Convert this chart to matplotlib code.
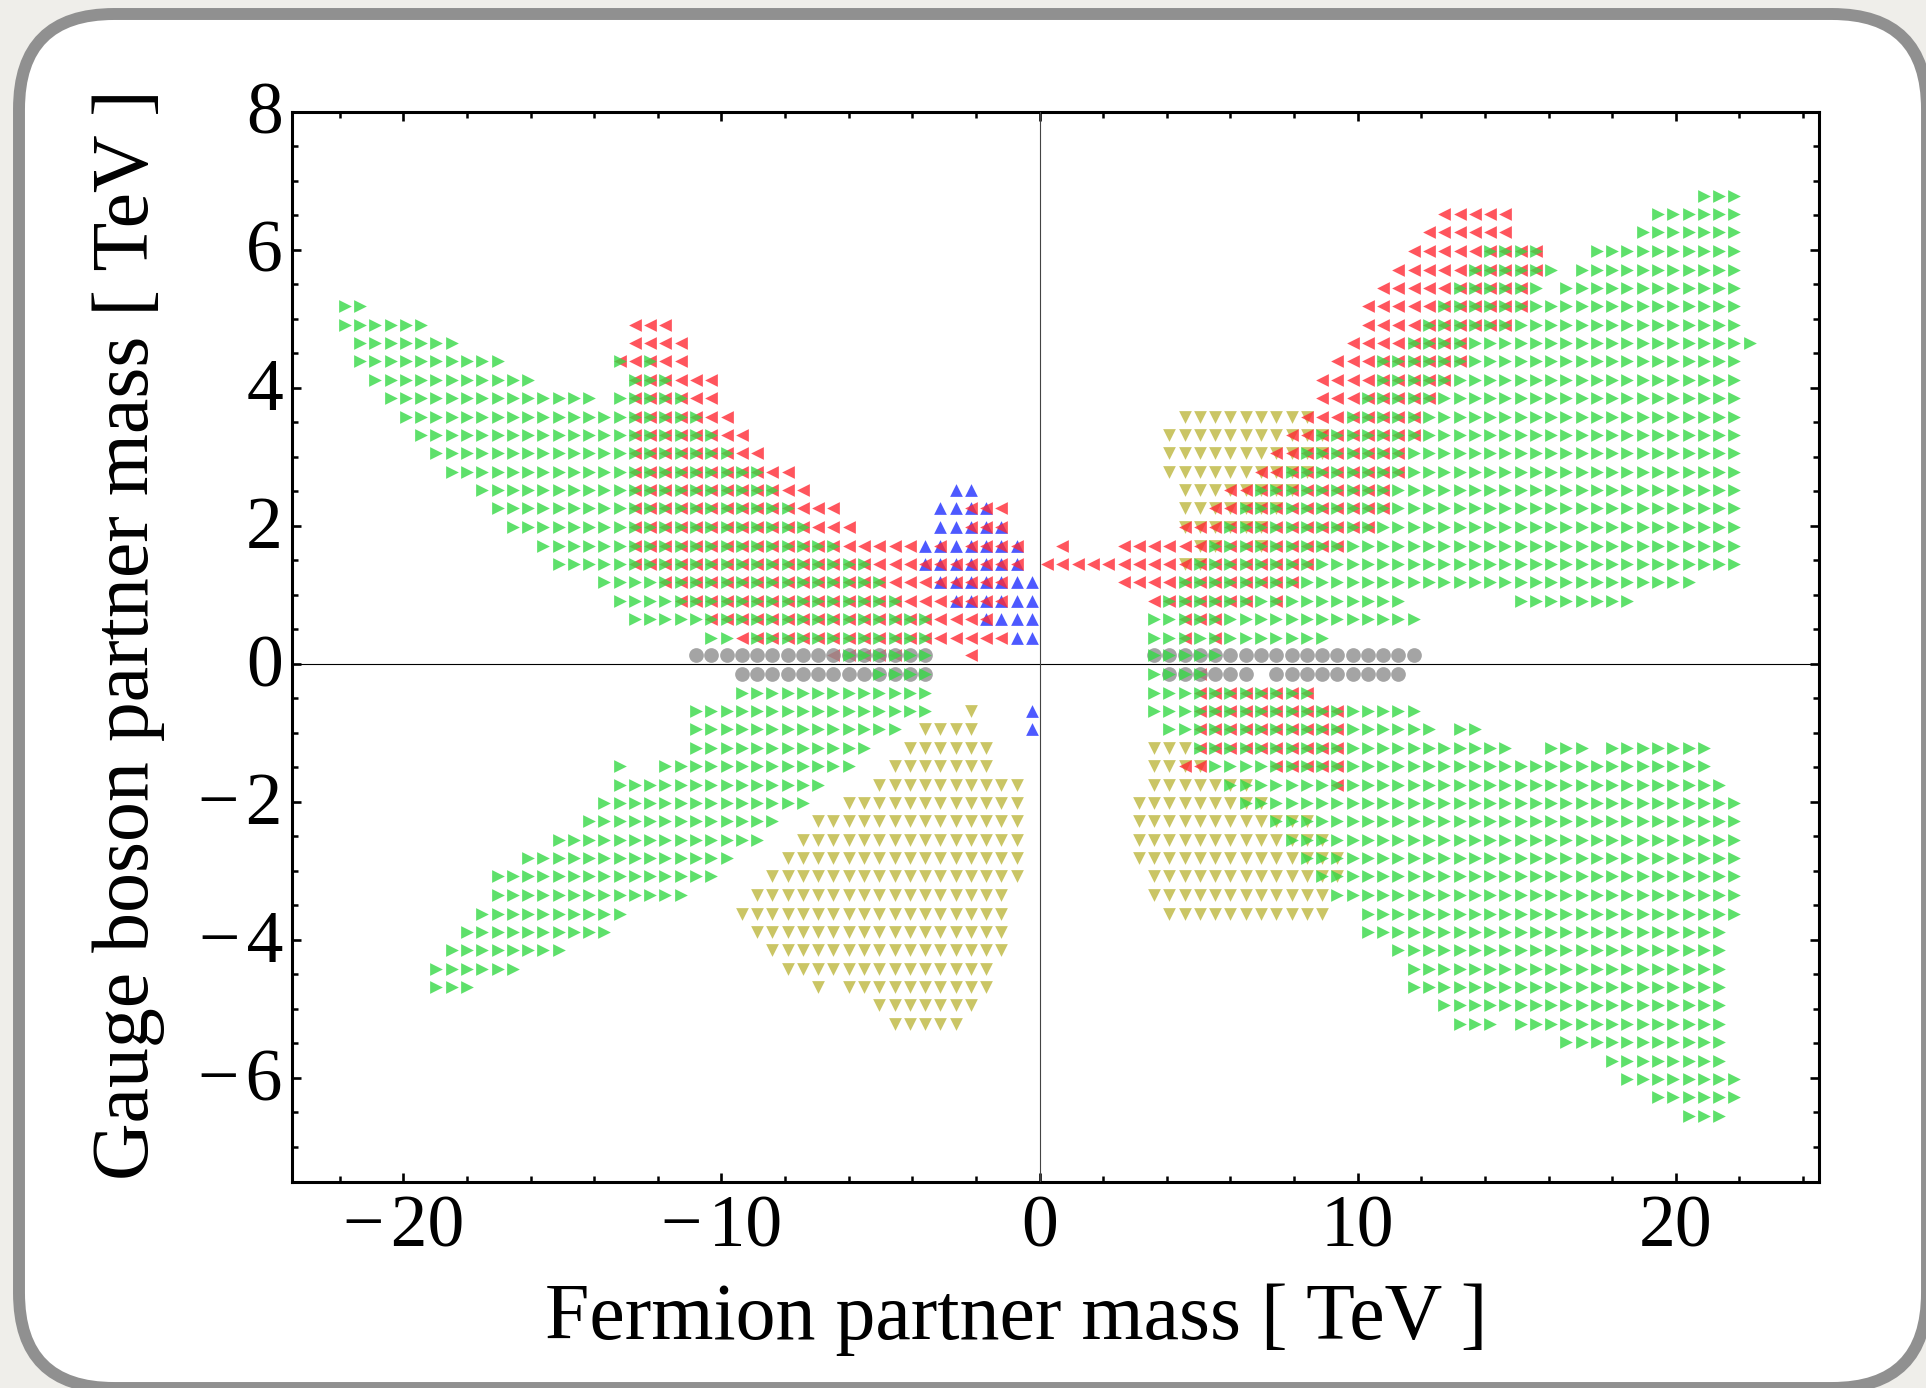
import matplotlib
matplotlib.use("Agg")
import matplotlib.pyplot as plt
from matplotlib.patches import FancyBboxPatch
from matplotlib.transforms import ScaledTranslation

plt.rcParams['font.family'] = ['Liberation Serif', 'DejaVu Serif']

# Scan grid: fermion partner masses (columns) and gauge boson partner masses (rows), TeV
FERMION = [-21.84, -21.36, -20.88, -20.40, -19.92, -19.44, -18.96, -18.48, -18.00, -17.52,
           -17.04, -16.56, -16.08, -15.60, -15.12, -14.64, -14.16, -13.68, -13.20, -12.72,
           -12.24, -11.76, -11.28, -10.80, -10.32, -9.84, -9.36, -8.88, -8.40, -7.92,
           -7.44, -6.96, -6.48, -6.00, -5.52, -5.04, -4.56, -4.08, -3.60, -3.12,
           -2.64, -2.16, -1.68, -1.20, -0.72, -0.24,
           0.24, 0.72, 1.20, 1.68, 2.16, 2.64, 3.12, 3.60, 4.08, 4.56,
           5.04, 5.52, 6.00, 6.48, 6.96, 7.44, 7.92, 8.40, 8.88, 9.36,
           9.84, 10.32, 10.80, 11.28, 11.76, 12.24, 12.72, 13.20, 13.68, 14.16,
           14.64, 15.12, 15.60, 16.08, 16.56, 17.04, 17.52, 18.00, 18.48, 18.96,
           19.44, 19.92, 20.40, 20.88, 21.36, 21.84, 22.32]
GAUGE = [-6.55, -6.28, -6.01, -5.75, -5.48, -5.22, -4.95, -4.68, -4.42, -4.15,
         -3.88, -3.62, -3.35, -3.08, -2.82, -2.55, -2.28, -2.02, -1.75, -1.48,
         -1.22, -0.95, -0.68, -0.42, -0.15,
         0.12, 0.38, 0.65, 0.91, 1.18, 1.45, 1.71, 1.98, 2.25, 2.51,
         2.78, 3.05, 3.31, 3.58, 3.85, 4.11, 4.38, 4.65, 4.91, 5.18,
         5.45, 5.71, 5.98, 6.25, 6.51, 6.78]

# Occupied cells per row: {row: [(first column, last column), ...]}
green_cells = {
    25: [(43, 45)], 24: [(40, 45)], 23: [(39, 45)], 22: [(29, 32), (36, 45)],
    21: [(28, 33), (35, 45)], 20: [(27, 32), (34, 45)], 19: [(26, 45)], 18: [(25, 45)],
    17: [(24, 46)], 16: [(22, 45)], 15: [(22, 45)], 14: [(21, 45)], 13: [(20, 45)],
    12: [(18, 45)], 11: [(17, 45)], 10: [(16, 45)], 9: [(14, 45)], 8: [(13, 45)],
    7: [(12, 45)], 6: [(11, 45)], 5: [(10, 45)], 4: [(9, 42)], 3: [(8, 23), (31, 38)],
    2: [(7, 24)], 1: [(7, 18)], 0: [(7, 11)], -1: [(7, 10)], -2: [(7, 17)], -3: [(7, 24)],
    -4: [(8, 25), (27, 28)], -5: [(10, 30), (33, 35), (37, 43)], -6: [(11, 43)],
    -7: [(12, 44)], -8: [(13, 45)], -9: [(15, 45)], -10: [(16, 45)], -11: [(17, 45)],
    -12: [(18, 45)], -13: [(19, 45)], -14: [(21, 45)], -15: [(21, 44)], -16: [(23, 44)],
    -17: [(24, 44)], -18: [(24, 44)], -19: [(26, 44)], -20: [(27, 29), (31, 44)],
    -21: [(34, 44)], -22: [(37, 44)], -23: [(38, 45)], -24: [(40, 45)], -25: [(42, 44)],
}
green_cells_left = {
    19: [(-46, -45)], 18: [(-46, -41)], 17: [(-45, -39)], 16: [(-45, -36), (-28, -28), (-26, -26)],
    15: [(-44, -34), (-27, -25)], 14: [(-43, -30), (-28, -24)], 13: [(-42, -23)],
    12: [(-41, -22)], 11: [(-40, -21)], 10: [(-39, -19)], 9: [(-37, -18)], 8: [(-36, -17)],
    7: [(-35, -16)], 6: [(-33, -14)], 5: [(-32, -12)], 4: [(-29, -11)], 3: [(-28, -10)],
    2: [(-27, -8)], 1: [(-22, -21), (-19, -8)], 0: [(-13, -8)], -1: [(-11, -8)],
    -2: [(-20, -8)], -3: [(-23, -8)], -4: [(-23, -10)], -5: [(-23, -12)],
    -6: [(-28, -28), (-25, -13)], -7: [(-28, -15)], -8: [(-29, -16)], -9: [(-30, -18)],
    -10: [(-32, -19)], -11: [(-34, -21)], -12: [(-36, -22)], -13: [(-36, -24)],
    -14: [(-37, -28)], -15: [(-38, -29)], -16: [(-39, -32)], -17: [(-40, -35)], -18: [(-40, -38)],
}
red_cells = {
    24: [(26, 30)], 23: [(25, 30)], 22: [(24, 32)], 21: [(23, 32)], 20: [(22, 31)], 19: [(21, 31)],
    18: [(-27, -25), (21, 30)], 17: [(-27, -24), (20, 27)], 16: [(-28, -24), (19, 27)],
    15: [(-27, -22), (18, 26)], 14: [(-27, -22), (18, 25)], 13: [(-27, -21), (17, 24)],
    12: [(-27, -20), (16, 24)], 11: [(-27, -19), (15, 23)], 10: [(-27, -17), (14, 23)],
    9: [(-27, -16), (12, 22)], 8: [(-27, -14), (-5, -3), (11, 22)],
    7: [(-27, -13), (-5, -3), (9, 21)],
    6: [(-27, -9), (-7, -7), (-5, -2), (1, 1), (5, 19)],
    5: [(-27, -2), (0, 17)], 4: [(-25, -3), (5, 16)], 3: [(-24, -3), (7, 13), (15, 15)],
    2: [(-22, -4), (9, 11)], 1: [(-20, -3), (9, 9), (11, 11)], 0: [(-14, -10), (-5, -5)],
    -1: [(10, 10)], -2: [(10, 17)], -3: [(10, 19)], -4: [(10, 19)], -5: [(10, 19)],
    -6: [(9, 10), (15, 19)], -7: [(19, 19)],
}
blue_cells = {
    9: [(-6, -5)], 8: [(-7, -4)], 7: [(-7, -3)], 6: [(-8, -2)], 5: [(-8, -2)], 4: [(-7, -1)],
    3: [(-6, -1)], 2: [(-4, -1)], 1: [(-2, -1)], -3: [(-1, -1)], -4: [(-1, -1)],
}
yellow_cells = {
    13: [(9, 17)], 12: [(8, 18)], 11: [(8, 18)], 10: [(8, 17)], 9: [(9, 16)], 8: [(9, 15)],
    7: [(9, 14)], 6: [(10, 11), (14, 14)], 5: [(9, 10)],
    -3: [(-5, -5)], -4: [(-8, -5)], -5: [(-9, -4), (7, 9)], -6: [(-10, -4), (7, 10)],
    -7: [(-11, -2), (7, 13)], -8: [(-13, -2), (6, 14)], -9: [(-15, -2), (6, 17)],
    -10: [(-16, -2), (6, 18)], -11: [(-17, -2), (6, 19)], -12: [(-18, -2), (7, 19)],
    -13: [(-19, -3), (7, 18)], -14: [(-20, -3), (8, 18)], -15: [(-19, -3)], -16: [(-18, -3)],
    -17: [(-17, -4)], -18: [(-15, -15), (-13, -4)], -19: [(-11, -5)], -20: [(-10, -6)],
}
gray_cells = {
    0: [(-23, -8), (7, 24)],
    -1: [(-20, -8), (8, 13), (15, 23)],
}

X_TICKS = [-20, -10, 0, 10, 20]
Y_TICKS = [-6, -4, -2, 0, 2, 4, 6, 8]
X_TICK_LABELS = ['\u2212\u200a20', '\u2212\u200a10', '0', '10', '20']
Y_TICK_LABELS = ['\u2212\u200a6', '\u2212\u200a4', '\u2212\u200a2', '0', '2', '4', '6', '8']
X_MINOR = [-22, -18, -16, -14, -12, -8, -6, -4, -2, 2, 4, 6, 8, 12, 14, 16, 18, 22, 24]
Y_MINOR = [-7, -6.5, -5.5, -5, -4.5, -3.5, -3, -2.5, -1.5, -1, -0.5, 0.5, 1, 1.5, 2.5, 3,
           3.5, 4.5, 5, 5.5, 6.5, 7, 7.5]


def column(j):
    # column numbers run ..., -2, -1, 0, 1, ... either side of zero mass
    return FERMION[j + 46]


def points(*cell_maps):
    xs, ys = [], []
    for cells in cell_maps:
        for row, spans in cells.items():
            for first, last in spans:
                for j in range(first, last + 1):
                    xs.append(column(j))
                    ys.append(GAUGE[row + 25])
    return xs, ys


W, H = 1926, 1388
fig = plt.figure(figsize=(W / 100, H / 100), dpi=100, facecolor='#EFEEEA')

frame = FancyBboxPatch((19, H - 1388), 1908, 1374,
                       boxstyle="round,pad=0,rounding_size=95",
                       facecolor='white', edgecolor='#909090', linewidth=8.6,
                       transform=None, zorder=0)
fig.patches.append(frame)
frame.set_figure(fig)

ax = fig.add_axes([292 / W, 1 - 1181.5 / H, (1819 - 292) / W, (1181.5 - 111.5) / H], zorder=2)
ax.set_facecolor('none')
ax.set_xlim(-23.5, 24.5)
ax.set_ylim(-7.5, 8.0)

S = 84
ALPHA = 0.8
ax.scatter(*points(yellow_cells), marker='v', s=S, color='#BDB73E', alpha=ALPHA, linewidths=0, zorder=2)
ax.scatter(*points(blue_cells), marker='^', s=S, color='#2030FF', alpha=ALPHA, linewidths=0, zorder=3)
ax.scatter(*points(red_cells), marker='<', s=S, color='#FF2A35', alpha=ALPHA, linewidths=0, zorder=4)
ax.scatter(*points(gray_cells), marker='o', s=112, color='#8E8E8E', alpha=ALPHA, linewidths=0, zorder=5)
ax.scatter(*points(green_cells, green_cells_left), marker='>', s=S, color='#36D946', alpha=ALPHA,
           linewidths=0, zorder=6)

ax.axhline(0, color='black', lw=0.8, zorder=7)
ax.axvline(0, color='#444444', lw=0.8, zorder=7)

ax.set_xticks(X_TICKS)
ax.set_yticks(Y_TICKS)
ax.set_xticks(X_MINOR, minor=True)
ax.set_yticks(Y_MINOR, minor=True)
ax.set_xticklabels(X_TICK_LABELS)
ax.set_yticklabels(Y_TICK_LABELS)
ax.tick_params(which='major', direction='in', length=6.8, width=1.9, top=True, right=True,
               labelsize=53, colors='black')
ax.tick_params(which='minor', direction='in', length=4.2, width=1.8, top=True, right=True)
ax.tick_params(axis='x', which='major', pad=10)
ax.tick_params(axis='y', which='major', pad=6.5)
for spine in ax.spines.values():
    spine.set_linewidth(2.2)

fig.canvas.draw()
lift = ScaledTranslation(0, 2.5 / 72, fig.dpi_scale_trans)
for label in ax.get_yticklabels():
    label.set_transform(label.get_transform() + lift)

fig.text(1016 / W, 1 - 1320 / H, 'Fermion partner mass [ TeV ]', fontsize=57.5,
         ha='center', va='center', zorder=3)
fig.text(129 / W, 1 - 635 / H, 'Gauge boson partner mass [ TeV ]', fontsize=57.5,
         ha='center', va='center', rotation=90, zorder=3)

fig.savefig('out.png', dpi=100, facecolor=fig.get_facecolor())
